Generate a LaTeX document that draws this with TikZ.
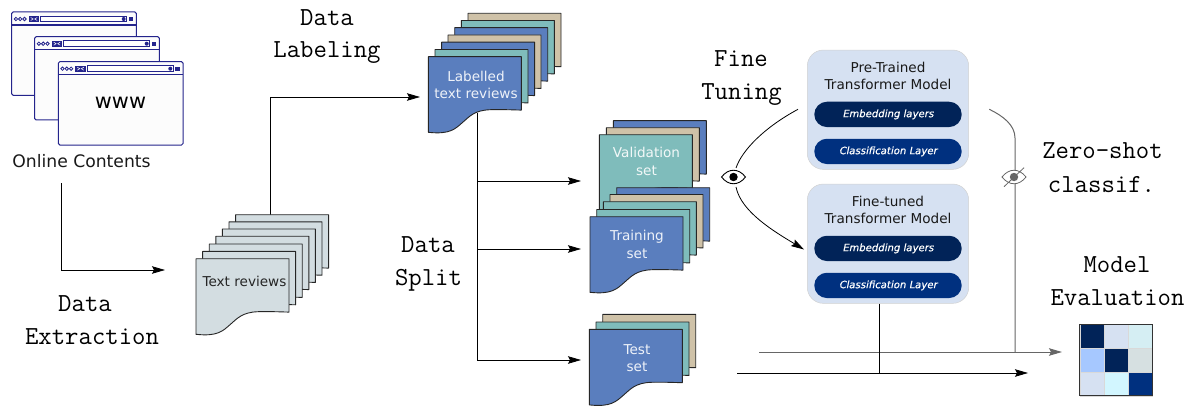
\documentclass[tikz,border=0pt]{standalone}
\usepackage{fontspec}
\setmainfont{DejaVu Sans}
\setmonofont{Latin Modern Mono}
\usetikzlibrary{arrows.meta}
\definecolor{docblue}{HTML}{5A7EBE}
\definecolor{docteal}{HTML}{7FBCBB}
\definecolor{doctan}{HTML}{CFC2A8}
\definecolor{docgray}{HTML}{D3DDE1}
\definecolor{winblue}{HTML}{24248C}
\definecolor{modelbg}{HTML}{D6E1F2}
\definecolor{pilla}{HTML}{012358}
\definecolor{pillb}{HTML}{00307F}
\definecolor{lineg}{HTML}{666666}
\definecolor{cellc}{HTML}{D5EEF3}
\definecolor{celld}{HTML}{A6C8FF}
\definecolor{celle}{HTML}{D6E0E1}
\definecolor{cellf}{HTML}{D2F6FF}
\tikzset{
  x=1pt,y=-1pt,
  flow/.style={draw=black,line width=0.8pt,-{Stealth[length=13pt,width=7.5pt,inset=2pt]}},
  gflow/.style={draw=lineg,line width=1pt,-{Stealth[length=13pt,width=7.5pt,inset=2pt]}},
  plain/.style={draw=black,line width=0.8pt},
  gplain/.style={draw=lineg,line width=1pt},
  sheet/.style={draw=black!85,line width=0.9pt,line join=round},
  steplabel/.style={font=\ttfamily\fontsize{26}{30}\selectfont,anchor=base,text=black,inner sep=0pt},
  doclabel/.style={font=\fontsize{13.6}{17.5}\selectfont,align=center,inner sep=0pt},
  modelbox/.style={draw=black!18,fill=modelbg,rounded corners=16pt,minimum width=161.4pt,minimum height=119.3pt,inner sep=0pt,line width=0.5pt},
  modeltitle/.style={font=\fontsize{13.6}{17}\selectfont,align=center,inner sep=0pt,text=black!90},
  pillbox/.style={rounded corners=12.6pt,minimum width=147.4pt,minimum height=25.3pt,inner sep=0pt,text=white,font=\pillfont},
  cmcell/.style={minimum width=24pt,minimum height=23.8pt,inner sep=0pt,draw=black!15,line width=0.4pt},
  browser/.pic={
    \draw[winblue,fill=black!1,line width=1pt,rounded corners=1.5pt] (0,0) rectangle (124.7,83.3);
    \draw[winblue,line width=1.1pt] (0,13) -- (124.7,13);
    \foreach \cx in {4.2,8.5,12.8}{\draw[winblue,line width=0.8pt] (\cx,7) circle (1.7pt);}
    \fill[winblue] (17,4) rectangle (27.5,10);
    \draw[white,line width=0.5pt] (19,5.5) -- (21.5,7) -- (19,8.5) (25.5,5.5) -- (23,7) -- (25.5,8.5);
    \draw[winblue,fill=white,line width=0.8pt] (29,4.2) rectangle (115,9.8);
    \fill[winblue] (112,7) circle (2pt);
    \fill[winblue] (117,5) rectangle (121.5,9);
  }
}
\newfontfamily\pillface[FakeBold=0.5,FakeSlant=0.2]{DejaVu Sans}
\newcommand{\pillfont}{\pillface\fontsize{10.1}{12}\selectfont}
\newcommand{\docsheet}[3]{%
  \begin{scope}[shift={(#1,#2)}]
    \draw[sheet,fill=#3] (0,0) -- (93,0) -- (93,53.4)
      .. controls (85,53.2) and (75,52.7) .. (62,53)
      .. controls (46,53.5) and (41,60) .. (34,66)
      .. controls (27,72) and (22,78) .. (0,75.6) -- cycle;
  \end{scope}}
\begin{document}
\begin{tikzpicture}
\useasboundingbox (0,0) rectangle (1190,409);
% browsers
\pic at (11.7,12) {browser};
\pic at (34.7,36.7) {browser};
\pic at (58.3,61.7) {browser};
\node[font=\fontsize{20.8}{24}\selectfont,inner sep=0pt] (www) at (120.5,103) {www};
\node[font=\fontsize{17.2}{20}\selectfont,inner sep=0pt,text=black!90] (online) at (81.5,161) {Online Contents};
% anchor points
\coordinate (onlineOut) at (61,183);
\coordinate (reviewsIn) at (165,270);
\coordinate (reviewsOut) at (270,215);
\coordinate (labelledIn) at (420,97);
\coordinate (labelledOut) at (477,113);
\coordinate (valIn) at (581,181);
\coordinate (trainIn) at (581,249);
\coordinate (testIn) at (581,360);
\coordinate (tuneA) at (798,109.3);
\coordinate (tuneB) at (736,168);
\coordinate (tuneC) at (736,187);
\coordinate (tuneD) at (804,249.5);
\coordinate (zeroA) at (989.3,109.3);
\coordinate (zeroB) at (1015,352);
\coordinate (evalGfrom) at (759,352);
\coordinate (evalG) at (1062,352);
\coordinate (evalKfrom) at (737,373);
\coordinate (evalK) at (1028,373);
% connectors under the documents
\draw[flow] (onlineOut) |- (reviewsIn);
\draw[flow] (reviewsOut) |- (labelledIn);
\draw[plain] (labelledOut) -- (labelledOut |- testIn);
\draw[flow] (labelledOut |- valIn) -- (valIn);
\draw[flow] (labelledOut |- trainIn) -- (trainIn);
\draw[flow] (labelledOut |- testIn) -- (testIn);
% text reviews stack
\docsheet{235.6}{214.7}{docgray}
\docsheet{229}{221.8}{docgray}
\docsheet{222.4}{229}{docgray}
\docsheet{215.8}{236.2}{docgray}
\docsheet{209.2}{244}{docgray}
\docsheet{202.6}{251.4}{docgray}
\docsheet{196}{258.7}{docgray}
\node[doclabel,text=black!85] (reviews) at (244.5,281) {Text reviews};
% labelled stack
\docsheet{468}{13.3}{doctan}
\docsheet{461.3}{20.5}{docteal}
\docsheet{454.7}{27.7}{docblue}
\docsheet{448}{35}{doctan}
\docsheet{441.6}{42.2}{docblue}
\docsheet{435}{49.5}{docteal}
\docsheet{428.3}{56.7}{docblue}
\node[doclabel,text=white!90!docblue] (labelled) at (476,85) {Labelled\\text reviews};
% validation stack
\docsheet{613.3}{120.7}{docblue}
\docsheet{606.3}{127.7}{doctan}
\docsheet{599.3}{134.7}{docteal}
\node[doclabel,text=white!90!docteal] (validation) at (646.5,161.5) {Validation\\set};
% training stack
\docsheet{616.7}{187.7}{docblue}
\docsheet{610}{194.5}{doctan}
\docsheet{603.3}{201.7}{docteal}
\docsheet{596.7}{209.5}{docteal}
\docsheet{590}{216.7}{docblue}
\node[doclabel,text=white!90!docblue] (training) at (637,244.5) {Training\\set};
% test stack
\docsheet{602.7}{314.3}{doctan}
\docsheet{596}{322}{docteal}
\docsheet{589.3}{329.3}{docblue}
\node[doclabel,text=white!90!docblue] (testset) at (637,358) {Test\\set};
% models
\node[modelbox] (pre) at (888,109.7) {};
\node[modeltitle] (pretitle) at (888,75.8) {Pre-Trained\\Transformer Model};
\node[pillbox,fill=pilla] (preemb) at (888,114.4) {Embedding layers};
\node[pillbox,fill=pillb] (precls) at (888,151.4) {Classification Layer};
\node[modelbox] (fine) at (888,243.7) {};
\node[modeltitle] (finetitle) at (888,209.8) {Fine-tuned\\Transformer Model};
\node[pillbox,fill=pilla] (fineemb) at (888,248.4) {Embedding layers};
\node[pillbox,fill=pillb] (finecls) at (888,285.4) {Classification Layer};
% connectors around the models
\draw[plain] (tuneA) .. controls (765,127) and (742,150) .. (tuneB);
\draw[flow] (tuneC) .. controls (741,212) and (775,232) .. (tuneD);
\draw[gplain] (zeroA) .. controls (1003,116) and (1015,125) .. (1015,138) -- (zeroB);
\draw[gflow] (evalGfrom) -- (evalG);
\draw[flow] (evalKfrom) -- (evalK);
\draw[plain] (fine.south -| 879,0) -- (879,373);
% eye
\begin{scope}[shift={(733.5,177)}]
  \draw[fill=white,line width=0.9pt] (-12,0) .. controls (-5,-9) and (5,-9) .. (12,0) .. controls (5,9) and (-5,9) .. (-12,0) -- cycle;
  \fill (0,0) circle (4.2pt);
\end{scope}
% crossed eye
\begin{scope}[shift={(1014,177)}]
  \draw[lineg,fill=white,line width=0.8pt] (-12,0) .. controls (-5,-9) and (5,-9) .. (12,0) .. controls (5,9) and (-5,9) .. (-12,0) -- cycle;
  \fill[lineg] (0,0) circle (4.2pt);
  \draw[lineg,line width=0.8pt] (-10,9.7) -- (10,-9.3);
\end{scope}
% step labels
\node[steplabel] (dl1) at (327,26) {Data};
\node[steplabel] (dl2) at (327,58) {Labeling};
\node[steplabel] (de1) at (85,311) {Data};
\node[steplabel] (de2) at (92,344) {Extraction};
\node[steplabel] (ds1) at (428,252) {Data};
\node[steplabel] (ds2) at (428.5,285) {Split};
\node[steplabel] (ft1) at (741,67) {Fine};
\node[steplabel] (ft2) at (741.5,100) {Tuning};
\node[steplabel] (zs1) at (1102.5,158.5) {Zero-shot};
\node[steplabel] (zs2) at (1101.5,192) {classif.};
\node[steplabel] (me1) at (1117,272) {Model};
\node[steplabel] (me2) at (1117.5,305) {Evaluation};
% confusion matrix
\node[cmcell,fill=pilla] (c11) at (1092,336.2) {};
\node[cmcell,fill=modelbg] (c12) at (1116,336.2) {};
\node[cmcell,fill=cellc] (c13) at (1140,336.2) {};
\node[cmcell,fill=celld] (c21) at (1092,360) {};
\node[cmcell,fill=pilla] (c22) at (1116,360) {};
\node[cmcell,fill=celle] (c23) at (1140,360) {};
\node[cmcell,fill=modelbg] (c31) at (1092,383.8) {};
\node[cmcell,fill=cellf] (c32) at (1116,383.8) {};
\node[cmcell,fill=pillb] (c33) at (1140,383.8) {};
\draw[black!80,line width=0.9pt] (c11.north west) rectangle (c33.south east);
\end{tikzpicture}
\end{document}
